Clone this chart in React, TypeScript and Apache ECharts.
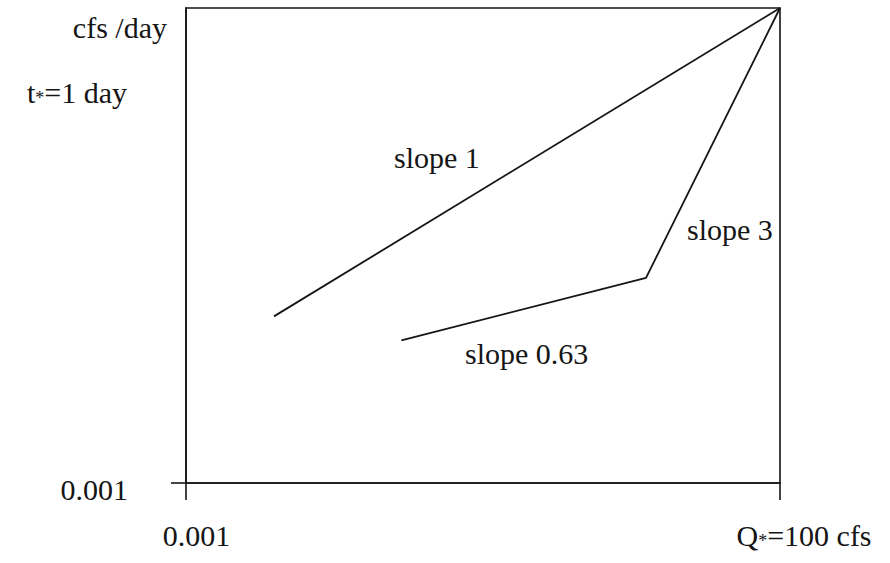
import { useEffect, useRef } from 'react';
import * as echarts from 'echarts';

// Log-log schematic: Q (cfs) vs flow per day
const slopeOneLine: [number, number][] = [
  [0.0055, 0.2],
  [100, 3630],
];
const brokenLine: [number, number][] = [
  [0.065, 0.093],
  [7.45, 0.68],
  [100, 3630],
];
const xRange = [0.001, 100];
const yRange = [0.001, 3630];
const xTickValues = [0.001, 100];
const yTickValues = [0.001];
const yLabelText = '0.001';
const slopeTexts = ['slope 1', 'slope 3', 'slope 0.63'];

const FONT = 'Liberation Serif';
const INK = '#151515';

function txt(x: number, y: number, label: string, align = 'left') {
  return {
    type: 'text',
    x,
    y,
    style: { text: label, fontFamily: FONT, fontSize: 30, fill: INK, align, verticalAlign: 'middle' },
  };
}

const richX = {
  n: { fontFamily: FONT, fontSize: 30, color: INK },
  s: { fontFamily: FONT, fontSize: 18, color: INK, verticalAlign: 'bottom' },
  g1: { width: 21 },
  g2: { width: 48 },
};

const option: any = {
  animation: false,
  grid: {
    left: 186,
    right: 110,
    top: 8,
    bottom: 80,
    show: true,
    borderColor: INK,
    borderWidth: 1.6,
    backgroundColor: 'transparent',
  },
  xAxis: {
    type: 'log',
    min: xRange[0],
    max: xRange[1],
    axisLine: { lineStyle: { color: INK, width: 1.6 } },
    axisTick: { customValues: xTickValues, length: 17, lineStyle: { color: INK, width: 1.6 } },
    splitLine: { show: false },
    axisLabel: {
      customValues: xTickValues,
      margin: 37,
      fontFamily: FONT,
      fontSize: 30,
      formatter: (v: number) => (v < 0.01 ? '{g1|}{n|0.001}' : '{g2|}{n|Q}{s|*}{n|=100 cfs}'),
      rich: richX,
    },
  },
  yAxis: {
    type: 'log',
    min: yRange[0],
    max: yRange[1],
    axisLine: { lineStyle: { color: INK, width: 1.6 } },
    axisTick: { customValues: yTickValues, length: 15, lineStyle: { color: INK, width: 1.6 } },
    splitLine: { show: false },
    axisLabel: { show: false },
  },
  series: [
    { type: 'line', data: slopeOneLine, symbol: 'none', lineStyle: { color: INK, width: 1.8 } },
    { type: 'line', data: brokenLine, symbol: 'none', lineStyle: { color: INK, width: 1.8 } },
  ],
  graphic: [
    txt(167, 27, 'cfs /day', 'right'),
    {
      type: 'text',
      x: 27,
      y: 92,
      style: {
        text: '{n|t}{s|*}{n|=1 day}',
        align: 'left',
        verticalAlign: 'middle',
        fontFamily: FONT,
        fontSize: 30,
        fill: INK,
        rich: {
          n: { fontFamily: FONT, fontSize: 30, fill: INK },
          s: { fontFamily: FONT, fontSize: 18, fill: INK, verticalAlign: 'bottom' },
        },
      },
    },
    txt(128, 489, yLabelText, 'right'),
    txt(394, 157, slopeTexts[0]),
    txt(687, 229, slopeTexts[1]),
    txt(465, 353, slopeTexts[2]),
  ],
};

function Chart() {
  const ref = useRef<HTMLDivElement>(null);
  useEffect(() => {
    if (!ref.current) return;
    const c = echarts.init(ref.current, undefined, { renderer: 'svg' });
    c.setOption(option);
    return () => c.dispose();
  }, []);
  return <div ref={ref} style={{ position: 'fixed', left: 0, top: 0, width: 890, height: 563, background: '#fff' }} />;
}

export default function App() {
  return (
    <div>
      <Chart />
    </div>
  );
}
